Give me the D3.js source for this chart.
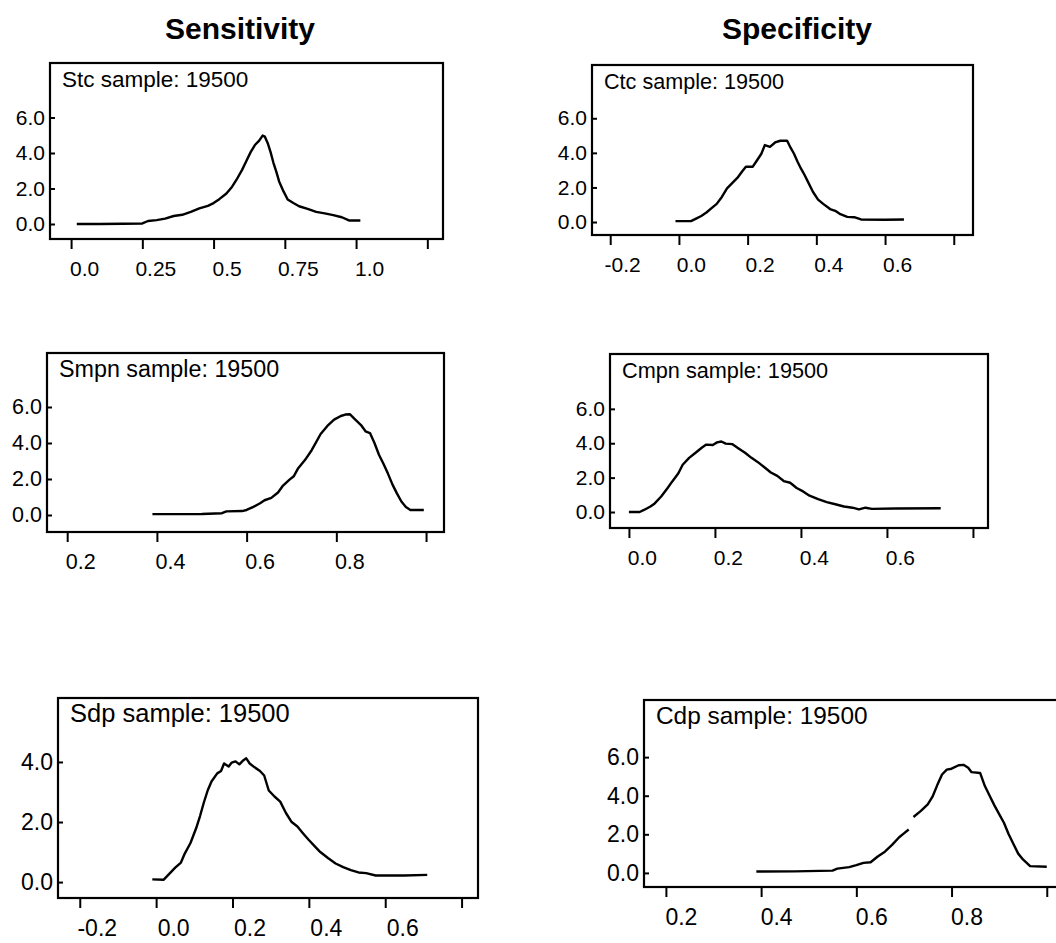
<!DOCTYPE html>
<html><head><meta charset="utf-8">
<script src="https://cdn.jsdelivr.net/npm/d3@7"></script>
<style>body{margin:0;background:#fff}</style></head>
<body><svg id="c" width="1056" height="943"></svg>
<script>
// ---------- data ----------
const columnTitles = ["Sensitivity", "Specificity"];
const panelNames = ["Stc", "Ctc", "Smpn", "Cmpn", "Sdp", "Cdp"];
const sampleSize = 19500;

const stc = [[0.02,0.0],[0.10,0.0],[0.18,0.01],[0.25,0.03],[0.27,0.17],[0.30,0.22],[0.33,0.30],[0.36,0.45],[0.39,0.52],[0.42,0.68],[0.45,0.88],[0.48,1.02],[0.50,1.18],[0.52,1.40],[0.545,1.72],[0.565,2.10],[0.58,2.48],[0.60,3.05],[0.615,3.55],[0.63,4.05],[0.645,4.45],[0.66,4.70],[0.672,4.98],[0.68,4.92],[0.69,4.55],[0.70,4.05],[0.71,3.45],[0.72,2.95],[0.73,2.40],[0.745,1.85],[0.76,1.38],[0.78,1.18],[0.80,1.00],[0.83,0.85],[0.86,0.68],[0.89,0.60],[0.92,0.50],[0.95,0.38],[0.975,0.20],[1.015,0.20]];
const ctc = [[-0.01,0.05],[0.035,0.05],[0.05,0.20],[0.065,0.35],[0.08,0.55],[0.095,0.80],[0.11,1.05],[0.125,1.45],[0.14,1.95],[0.155,2.25],[0.17,2.55],[0.185,2.95],[0.195,3.20],[0.215,3.20],[0.225,3.50],[0.24,3.95],[0.25,4.45],[0.265,4.35],[0.28,4.60],[0.295,4.70],[0.315,4.70],[0.325,4.30],[0.335,3.95],[0.345,3.50],[0.355,3.10],[0.365,2.75],[0.375,2.35],[0.39,1.75],[0.405,1.30],[0.42,1.05],[0.44,0.75],[0.455,0.65],[0.47,0.45],[0.49,0.30],[0.51,0.28],[0.53,0.15],[0.60,0.13],[0.655,0.15]];
const smpn = [[0.39,0.05],[0.45,0.05],[0.50,0.06],[0.545,0.10],[0.555,0.20],[0.59,0.22],[0.60,0.28],[0.615,0.45],[0.63,0.65],[0.64,0.82],[0.655,0.95],[0.67,1.25],[0.68,1.60],[0.695,1.95],[0.705,2.15],[0.715,2.60],[0.73,3.05],[0.745,3.60],[0.755,4.05],[0.765,4.50],[0.78,4.95],[0.795,5.30],[0.81,5.50],[0.82,5.58],[0.83,5.60],[0.84,5.35],[0.855,5.00],[0.865,4.65],[0.875,4.55],[0.885,4.00],[0.895,3.35],[0.905,2.85],[0.915,2.30],[0.925,1.70],[0.935,1.20],[0.945,0.75],[0.955,0.45],[0.965,0.28],[0.995,0.28]];
const cmpn = [[0.0,0.0],[0.025,0.0],[0.035,0.12],[0.05,0.32],[0.06,0.50],[0.075,0.90],[0.09,1.40],[0.10,1.75],[0.115,2.25],[0.125,2.75],[0.14,3.15],[0.155,3.45],[0.17,3.75],[0.18,3.92],[0.195,3.90],[0.205,4.05],[0.215,4.10],[0.225,3.98],[0.24,3.95],[0.255,3.70],[0.27,3.45],[0.285,3.15],[0.30,2.90],[0.315,2.60],[0.33,2.30],[0.345,2.10],[0.36,1.80],[0.375,1.70],[0.39,1.40],[0.405,1.20],[0.42,0.95],[0.44,0.75],[0.46,0.58],[0.48,0.45],[0.50,0.32],[0.52,0.25],[0.535,0.15],[0.55,0.25],[0.565,0.18],[0.62,0.20],[0.725,0.22]];
const sdp = [[-0.01,0.09],[0.02,0.08],[0.035,0.28],[0.05,0.48],[0.065,0.65],[0.075,0.95],[0.09,1.30],[0.105,1.80],[0.115,2.20],[0.125,2.65],[0.135,3.05],[0.145,3.35],[0.16,3.62],[0.17,3.70],[0.178,3.95],[0.19,3.85],[0.198,3.98],[0.208,4.02],[0.218,3.92],[0.228,4.05],[0.236,4.12],[0.245,3.95],[0.258,3.82],[0.272,3.70],[0.283,3.55],[0.295,3.05],[0.31,2.85],[0.325,2.68],[0.34,2.30],[0.355,2.00],[0.37,1.85],[0.385,1.62],[0.40,1.40],[0.415,1.20],[0.43,1.00],[0.45,0.80],[0.47,0.62],[0.49,0.50],[0.51,0.40],[0.53,0.32],[0.55,0.30],[0.575,0.22],[0.65,0.22],[0.71,0.24]];
const cdp = [[0.39,0.07],[0.47,0.08],[0.55,0.12],[0.56,0.22],[0.585,0.30],[0.60,0.40],[0.615,0.52],[0.63,0.55],[0.645,0.85],[0.66,1.10],[0.675,1.45],[0.69,1.85],[0.70,2.05],[0.71,2.25],null,[0.72,2.90],[0.735,3.20],[0.75,3.55],[0.76,3.95],[0.77,4.55],[0.78,5.10],[0.79,5.35],[0.80,5.40],[0.815,5.58],[0.825,5.60],[0.835,5.45],[0.842,5.22],[0.86,5.18],[0.87,4.50],[0.88,4.00],[0.89,3.50],[0.90,3.05],[0.91,2.60],[0.92,2.00],[0.93,1.50],[0.94,1.00],[0.95,0.70],[0.965,0.35],[1.0,0.32]];
const curves = [stc, ctc, smpn, cmpn, sdp, cdp];

const xTicks = [
  [0, 0.25, 0.5, 0.75, 1.0, 1.25],
  [-0.2, 0, 0.2, 0.4, 0.6, 0.8],
  [0.2, 0.4, 0.6, 0.8, 1.0],
  [0, 0.2, 0.4, 0.6, 0.8],
  [-0.2, 0, 0.2, 0.4, 0.6, 0.8],
  [0.2, 0.4, 0.6, 0.8, 1.0]
];
const xTickLabels = [
  ["0.0", "0.25", "0.5", "0.75", "1.0", ""],
  ["-0.2", "0.0", "0.2", "0.4", "0.6", ""],
  ["0.2", "0.4", "0.6", "0.8", ""],
  ["0.0", "0.2", "0.4", "0.6", ""],
  ["-0.2", "0.0", "0.2", "0.4", "0.6", ""],
  ["0.2", "0.4", "0.6", "0.8", ""]
];
const yTicks = [
  [0, 2, 4, 6], [0, 2, 4, 6], [0, 2, 4, 6], [0, 2, 4, 6], [0, 2, 4], [0, 2, 4, 6]
];

// ---------- layout (positions / sizes / styles) ----------
const layout = [
  {x0: 50,  x1: 443,  y0: 63,  y1: 239, xd: [-0.074, 1.305], yd: [-0.845, 9.07], fs: 22.5, tfs: 21, dx: 13},
  {x0: 592, x1: 973,  y0: 65,  y1: 235, xd: [-0.253, 0.856], yd: [-0.75, 9.08],  fs: 21.6, tfs: 21, dx: 12},
  {x0: 47,  x1: 444,  y0: 353, y1: 532, xd: [0.155, 1.040],  yd: [-0.944, 9.0],  fs: 23.3, tfs: 21.5, dx: 13},
  {x0: 610, x1: 988,  y0: 354, y1: 528, xd: [-0.044, 0.835], yd: [-0.93, 9.19],  fs: 21.7, tfs: 21, dx: 13},
  {x0: 58,  x1: 478,  y0: 698, y1: 898, xd: [-0.257, 0.843], yd: [-0.53, 6.13],  fs: 25.5, tfs: 23, dx: 17},
  {x0: 644, x1: 1062, y0: 700, y1: 887, xd: [0.154, 1.032],  yd: [-0.73, 8.96],  fs: 24.4, tfs: 23, dx: 15}
];
const titlePos = [{x: 240, y: 39}, {x: 797, y: 39}];
const FONT = "'Liberation Sans', Arial, Helvetica, sans-serif";

const svg = d3.select("#c");

svg.selectAll("text.title").data(columnTitles).join("text")
  .attr("class", "title")
  .attr("x", (d, i) => titlePos[i].x).attr("y", (d, i) => titlePos[i].y)
  .attr("text-anchor", "middle")
  .style("font-family", FONT).style("font-weight", "bold").style("font-size", "30px")
  .text(d => d);

panelNames.forEach((name, i) => {
  const L = layout[i];
  const x = d3.scaleLinear().domain(L.xd).range([L.x0, L.x1]);
  const y = d3.scaleLinear().domain(L.yd).range([L.y1, L.y0]);
  const g = svg.append("g");

  // frame
  g.append("rect").attr("x", L.x0).attr("y", L.y0)
    .attr("width", L.x1 - L.x0).attr("height", L.y1 - L.y0)
    .attr("fill", "none").attr("stroke", "#000").attr("stroke-width", 2.2);

  // y axis (ticks inward)
  const ya = g.append("g").attr("transform", `translate(${L.x0},0)`)
    .call(d3.axisLeft(y).tickValues(yTicks[i]).tickSize(-5).tickPadding(5)
      .tickFormat(d3.format(".1f")));
  ya.select(".domain").remove();
  ya.selectAll("line").attr("stroke", "#000").attr("stroke-width", 2);
  ya.selectAll("text").style("font-family", FONT).style("font-size", L.tfs + "px").attr("fill", "#000");

  // x axis (ticks outward)
  const xa = g.append("g").attr("transform", `translate(0,${L.y1})`)
    .call(d3.axisBottom(x).tickValues(xTicks[i]).tickSize(10)
      .tickFormat((d, k) => xTickLabels[i][k]));
  xa.select(".domain").remove();
  xa.selectAll("line").attr("stroke", "#000").attr("stroke-width", 2);
  xa.selectAll("text").attr("x", L.dx).attr("y", 22)
    .style("font-family", FONT).style("font-size", L.tfs + "px").attr("fill", "#000");

  // curve
  const line = d3.line().defined(d => d !== null).x(d => x(d[0])).y(d => y(d[1]));
  g.append("path").datum(curves[i]).attr("d", line)
    .attr("fill", "none").attr("stroke", "#000").attr("stroke-width", 2.4)
    .attr("stroke-linejoin", "round");

  // panel label
  g.append("text").attr("x", L.x0 + 12).attr("y", L.y0 + 24)
    .style("font-family", FONT).style("font-size", L.fs + "px")
    .text(`${name} sample: ${sampleSize}`);
});
</script></body></html>
